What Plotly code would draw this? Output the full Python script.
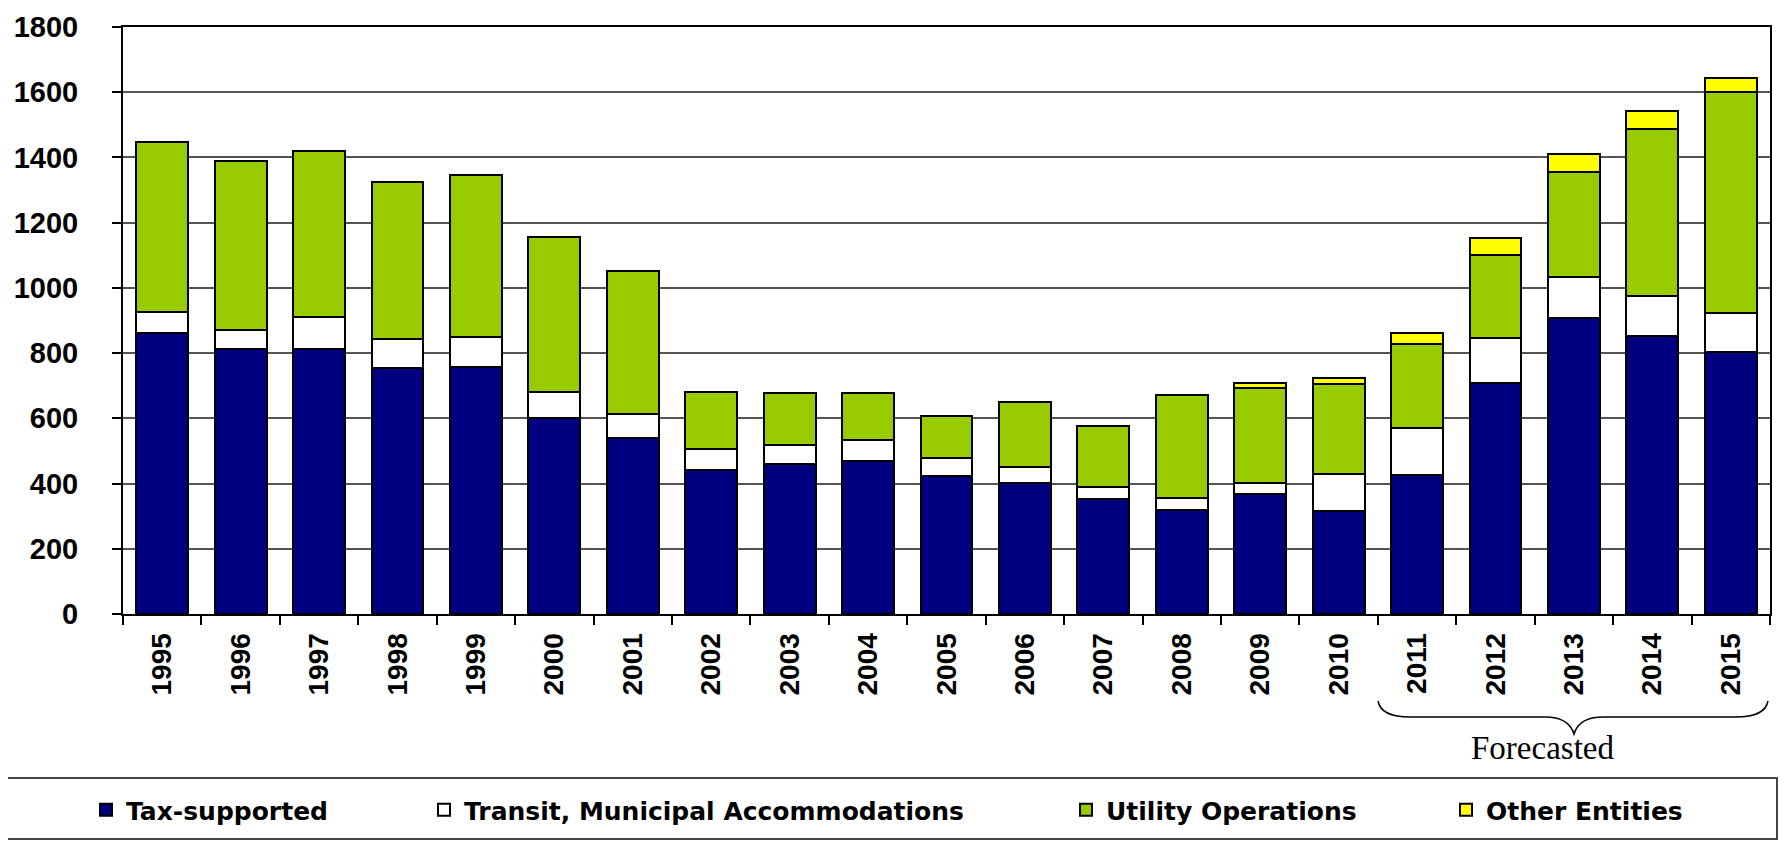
import plotly.graph_objects as go

# Valeurs (années 1995 à 2015)
years = [str(y) for y in range(1995, 2016)]
tax_supported = [861, 812, 812, 754, 757, 600, 539, 442, 460, 469, 423,
                 402, 353, 319, 368, 315, 426, 708, 908, 853, 803]
transit_municipal = [64, 58, 98, 88, 92, 80, 74, 64, 58, 65, 55,
                     49, 37, 37, 34, 114, 144, 137, 126, 123, 119]
utility_operations = [521, 518, 511, 484, 496, 475, 440, 175, 160, 144, 129,
                      199, 187, 316, 291, 275, 257, 256, 321, 511, 678]
other_entities = [0, 0, 0, 0, 0, 0, 0, 0, 0, 0, 0,
                  0, 0, 0, 16, 19, 34, 52, 55, 55, 43]

series_names = ['Tax-supported', 'Transit, Municipal Accommodations',
                'Utility Operations', 'Other Entities']
y_ticks = list(range(0, 1801, 200))

# Géométrie en pixels de la page (la page HTML ajoute 8 px de marge)
W, H = 1787, 843
OFF = 8
PL, PR, PT, PB = 123, 1770, 27, 614   # zone de tracé dans la page
PW, PH = PR - PL, PB - PT


def px_x(px):
    return (px - PL) / PW


def px_y(py):
    return (PB - py) / PH


colors = ['#000080', '#FFFFFF', '#99CC00', '#FFFF00']
values = [tax_supported, transit_municipal, utility_operations, other_entities]
legend_ids = ['legend', 'legend2', 'legend3', 'legend4']

fig = go.Figure()

for name, vals, color, lg in zip(series_names, values, colors, legend_ids):
    fig.add_trace(go.Bar(
        x=years,
        y=[v if v > 0 else None for v in vals],
        name=name,
        legend=lg,
        showlegend=True,
        marker=dict(color=color, line=dict(color='#000000', width=2)),
    ))

# Accolade "Forecasted" sous 2011-2015
bx0, bx1, tip = 1378, 1768, 1574
yt, yh, yb = 701, 717, 734
pts = [(bx0, yt), (bx0 + 2, yh - 5), (bx0 + 14, yh), (bx0 + 32, yh),
       (tip - 29, yh), (tip - 11, yh), (tip - 3, yh + 7), (tip, yb),
       (tip + 3, yh + 7), (tip + 11, yh), (tip + 29, yh),
       (bx1 - 32, yh), (bx1 - 14, yh), (bx1 - 2, yh - 5), (bx1, yt)]
p = [(px_x(a), px_y(b)) for a, b in pts]
path = (f"M{p[0][0]},{p[0][1]} C{p[1][0]},{p[1][1]} {p[2][0]},{p[2][1]} {p[3][0]},{p[3][1]} "
        f"L{p[4][0]},{p[4][1]} C{p[5][0]},{p[5][1]} {p[6][0]},{p[6][1]} {p[7][0]},{p[7][1]} "
        f"C{p[8][0]},{p[8][1]} {p[9][0]},{p[9][1]} {p[10][0]},{p[10][1]} "
        f"L{p[11][0]},{p[11][1]} C{p[12][0]},{p[12][1]} {p[13][0]},{p[13][1]} {p[14][0]},{p[14][1]}")

fig.add_shape(type='path', path=path, xref='paper', yref='paper',
              line=dict(color='#000000', width=1.5))

fig.add_annotation(
    text='Forecasted', xref='paper', yref='paper',
    x=px_x(1542), y=px_y(748), showarrow=False,
    xanchor='center', yanchor='middle',
    font=dict(family='Liberation Serif', size=33, color='#000000')
)

# Cadre de la légende
fig.add_shape(type='rect', xref='paper', yref='paper',
              x0=px_x(OFF - 2), x1=px_x(1777), y0=px_y(839), y1=px_y(778),
              line=dict(color='#444444', width=2), fillcolor='rgba(0,0,0,0)')

legend_font = dict(family='DejaVu Sans', size=25, color='#000000', weight='bold')
legend_x = [86, 424, 1066, 1446]
legend_layout = {}
for lg, lx in zip(legend_ids, legend_x):
    legend_layout[lg] = dict(
        xref='container', yref='container',
        x=(lx - OFF) / W, y=1 - (810 - OFF) / H,
        xanchor='left', yanchor='middle',
        orientation='h', font=legend_font,
        bgcolor='rgba(0,0,0,0)', borderwidth=0
    )

fig.update_layout(
    barmode='stack',
    bargap=0.34,
    showlegend=True,
    width=W, height=H,
    margin=dict(l=PL - OFF, r=W - (PR - OFF), t=PT - OFF, b=H - (PB - OFF),
                autoexpand=False),
    paper_bgcolor='#FFFFFF',
    plot_bgcolor='#FFFFFF',
    xaxis=dict(
        type='category',
        tickangle=-90,
        tickson='boundaries',
        ticks='outside', ticklen=9, tickwidth=1.5, tickcolor='#000000',
        tickfont=dict(family='Liberation Sans', size=28, color='#000000', weight='bold'),
        ticklabelstandoff=6,
        showline=True, linecolor='#000000', linewidth=2, mirror=True,
        showgrid=False, zeroline=False
    ),
    yaxis=dict(
        range=[0, 1800],
        tickvals=y_ticks,
        ticks='outside', ticklen=9, tickwidth=1.5, tickcolor='#000000',
        tickfont=dict(family='Liberation Sans', size=29, color='#000000', weight='bold'),
        ticklabelstandoff=28,
        showline=True, linecolor='#000000', linewidth=2, mirror=True,
        showgrid=True, gridcolor='#555555', gridwidth=1.5,
        zeroline=False
    ),
    **legend_layout
)

fig.write_html("out.html")
